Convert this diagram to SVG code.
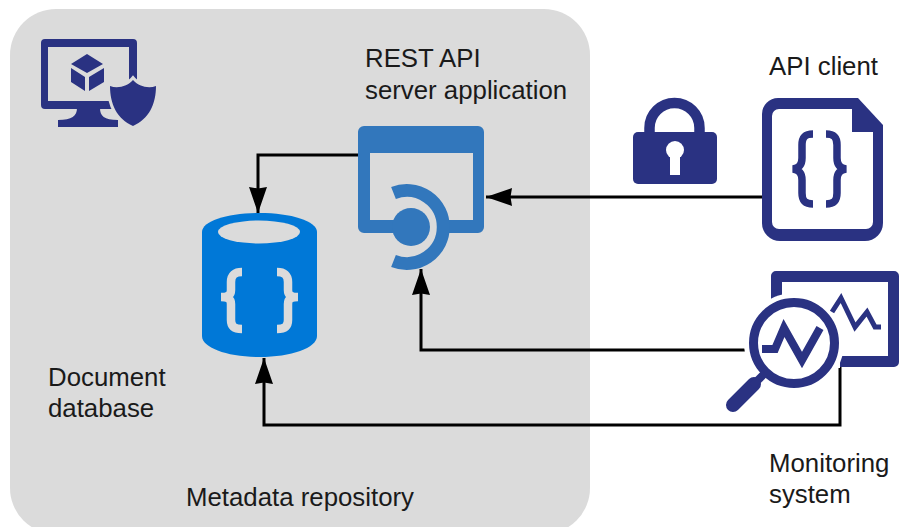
<svg xmlns="http://www.w3.org/2000/svg" width="899" height="527" viewBox="0 0 899 527">
<style>
.t{font-family:"Liberation Sans",Arial,sans-serif;font-size:25.8px;fill:#1a1a1a}
.n{fill:#2a3282}
.c{fill:none;stroke:#000;stroke-width:3;marker-end:url(#ah)}
.brw{fill:none;stroke:#dbdbdb;stroke-width:8.500}
.brn{fill:none;stroke:#2a3282;stroke-width:7.500}
</style>
<defs>
<marker id="ah" markerUnits="userSpaceOnUse" markerWidth="28" markerHeight="20" refX="26" refY="9" orient="auto"><path d="M0,0 L26,9 L0,18 L1.500,9 Z" fill="#000"/></marker>
</defs>
<g id="metadata-repository">
<rect x="10" y="9" width="580" height="525" rx="46" fill="#dbdbdb"/>
<text class="t" x="186" y="506">Metadata repository</text>
</g>
<g id="repo-icon">
<path class="n" fill-rule="evenodd" d="M45,39H133a4,4 0 0 1 4,4V109H45a4,4 0 0 1 -4,-4V43a4,4 0 0 1 4,-4ZM48,47V101H129V47Z"/>
<path class="n" d="M77,108H100C100,116 104,120 118,120V127H58V120C72,120 77,116 77,108Z"/>
<path class="n" d="M87,54L103,64L87,73L71,64ZM71,68L85,77V91L71,82ZM104,68L89,77V91L104,82Z"/>
<path class="n" stroke="#dbdbdb" stroke-width="6" paint-order="stroke" d="M133,80C138,86 148,89 156,86C156,104 149,119 133,126C117,119 110,104 110,86C118,89 128,86 133,80Z"/>
</g>
<g id="connectors">
<path class="c" d="M762,197H486"/>
<path class="c" d="M358,155H258V213"/>
<path class="c" d="M750,350H421V269"/>
<path class="c" d="M840,366V425H264V358"/>
</g>
<g id="rest-api-server">
<path fill="#3277bc" fill-rule="evenodd" d="M364,126H478a6,6 0 0 1 6,6V227a6,6 0 0 1 -6,6H364a6,6 0 0 1 -6,-6V132a6,6 0 0 1 6,-6ZM370,153V220H473V153Z"/>
<path fill="#dbdbdb" d="M410,227L394,193A37,37 0 0 1 447,227A37,37 0 0 1 394,261Z"/>
<circle cx="411" cy="227" r="19" fill="#3277bc"/>
<path fill="none" stroke="#3277bc" stroke-width="13" d="M393.500,193A36.500,36.500 0 1 1 393.500,261"/>
<text class="t" x="365" y="67">REST API</text>
<text class="t" x="365" y="99">server application</text>
</g>
<g id="document-database">
<path fill="#0078d7" d="M202,232C202,221 228,213 259.500,213S317,221 317,232V336C317,348 291,357 259.500,357S202,348 202,336Z"/>
<ellipse cx="259" cy="232" rx="41" ry="11.500" fill="#dbdbdb"/>
<path class="brw" d="M242,272C235,272 231,275 231,282V290C231,295 228,297 221,297C228,297 231,299 231,304V320C231,327 235,329 242,329"/>
<path class="brw" d="M277,272C284,272 288,275 288,282V290C288,295 291,297 298,297C291,297 288,299 288,304V320C288,327 284,329 277,329"/>
<text class="t" x="48" y="386">Document</text>
<text class="t" x="48" y="417">database</text>
</g>
<g id="lock">
<path fill="none" stroke="#2a3282" stroke-width="10.500" d="M649.500,134V128A25,25 0 0 1 699.500,128V134"/>
<rect class="n" x="633" y="132" width="84" height="52" rx="5"/>
<circle cx="675" cy="150" r="9" fill="#fff"/>
<rect x="670" y="152" width="10" height="23" fill="#fff"/>
</g>
<g id="api-client">
<path class="n" d="M778,98H858L883,125V223a18,18 0 0 1 -18,18H780a18,18 0 0 1 -18,-18V114a16,16 0 0 1 16,-16Z"/>
<path fill="#fff" d="M779,109H852V132H873V222a7,7 0 0 1 -7,7H779a7,7 0 0 1 -7,-7V116a7,7 0 0 1 7,-7Z"/>
<path class="brn" d="M813,134C805,134 802,137 802,145V158C802,165 799,168 793,169C799,170 802,173 802,180V193C802,201 805,204 813,204"/>
<path class="brn" d="M826,134C834,134 837,137 837,145V158C837,165 840,168 846,169C840,170 837,173 837,180V193C837,201 834,204 826,204"/>
<text class="t" x="769" y="75">API client</text>
</g>
<g id="monitoring-system">
<path class="n" fill-rule="evenodd" d="M776,271H894a5,5 0 0 1 5,5V362a5,5 0 0 1 -5,5H776a5,5 0 0 1 -5,-5V276a5,5 0 0 1 5,-5ZM782,282V356H888V282Z"/>
<circle cx="794" cy="343" r="50" fill="#fff"/>
<path fill="#fff" d="M771,345H840V368H771Z"/>
<path fill="none" stroke="#2a3282" stroke-width="5" d="M832,312L841,298L855,327L867,312L875,327H881"/>
<circle cx="794" cy="343" r="40.500" fill="#fff" stroke="#2a3282" stroke-width="9"/>
<path fill="none" stroke="#2a3282" stroke-width="8" d="M762,349H775L784,328L802,360L820,328"/>
<path fill="none" stroke="#2a3282" stroke-width="14" stroke-linecap="round" d="M733,405L754,384"/>
<path fill="none" stroke="#2a3282" stroke-width="8" d="M752,386L765,373"/>
<text class="t" x="769" y="472">Monitoring</text>
<text class="t" x="769" y="503">system</text>
</g>
</svg>
